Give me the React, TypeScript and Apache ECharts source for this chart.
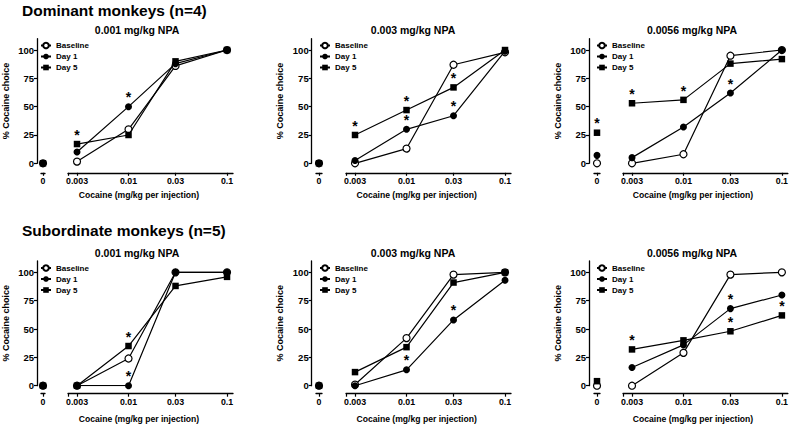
import React, { useEffect, useRef } from "react";
import * as echarts from "echarts";

// ---------- data ----------
const doses = [0.003, 0.01, 0.03, 0.1];
const doseTickValues = [0.00243, 0.003, 0.01, 0.03, 0.1];
const yTicks = [0, 25, 50, 75, 100];
const seriesNames = ["Baseline", "Day 1", "Day 5"];
const groupTitles = ["Dominant monkeys (n=4)", "Subordinate monkeys (n=5)"];
const panelTitles = ["0.001 mg/kg NPA", "0.003 mg/kg NPA", "0.0056 mg/kg NPA"];
const xName = "Cocaine (mg/kg per injection)";
const yName = "% Cocaine choice";

// values: [dose 0 (saline), 0.003, 0.01, 0.03, 0.1]
const dom001Baseline = [0, 1.5, 30, 86, 100];
const dom001Day1 = [0, 10, 50, 88, 100];
const dom001Day5 = [0, 17, 25, 90, 100];
const dom001Sig = [[], [2], [1]];

const dom003Baseline = [0, 0, 13, 87, 98];
const dom003Day1 = [0, 2.5, 30, 42, 99];
const dom003Day5 = [0, 25, 47, 67, 100];
const dom003Sig = [[], [2, 3], [1, 2, 3]];

const dom0056Baseline = [0, 0, 8, 95, 100];
const dom0056Day1 = [7, 5, 32, 62, 100];
const dom0056Day5 = [27, 53, 56, 88, 92];
const dom0056Sig = [[], [3], [0, 1, 2]];

const sub001Baseline = [0, 0, 24, 100, 100];
const sub001Day1 = [0, 0, 0, 100, 100];
const sub001Day5 = [0, 0, 35, 88, 96];
const sub001Sig = [[], [2], [2]];

const sub003Baseline = [0, 1, 42, 98, 100];
const sub003Day1 = [0, 0, 14, 58, 93];
const sub003Day5 = [0, 12, 34, 91, 100];
const sub003Sig = [[], [2, 3], []];

const sub0056Baseline = [0, 0, 29, 98, 100];
const sub0056Day1 = [null, 16, 36, 68, 80];
const sub0056Day5 = [4, 32, 40, 48, 62];
const sub0056Sig = [[], [3], [1, 3, 4]];

const panels = [
  { row: 0, col: 0, values: [dom001Baseline, dom001Day1, dom001Day5], sig: dom001Sig },
  { row: 0, col: 1, values: [dom003Baseline, dom003Day1, dom003Day5], sig: dom003Sig },
  { row: 0, col: 2, values: [dom0056Baseline, dom0056Day1, dom0056Day5], sig: dom0056Sig },
  { row: 1, col: 0, values: [sub001Baseline, sub001Day1, sub001Day5], sig: sub001Sig },
  { row: 1, col: 1, values: [sub003Baseline, sub003Day1, sub003Day5], sig: sub003Sig },
  { row: 1, col: 2, values: [sub0056Baseline, sub0056Day1, sub0056Day5], sig: sub0056Sig },
];

// ---------- layout ----------
const FONT = "'Liberation Sans', Arial, Helvetica, sans-serif";
const cols = [
  { axis: 35, zero: 42, logLeft: 68, titleX: 137, nameX: 139, legendX: 40 },
  { axis: 311.7, zero: 319, logLeft: 346, titleX: 413, nameX: 416.7, legendX: 319 },
  { axis: 589, zero: 597, logLeft: 623, titleX: 692, nameX: 693, legendX: 596 },
];
const rows = [
  { top: 38.7, height: 124.6, xOff: 9.5, titleY: 30, nameY: 195, groupY: 10, legendY: 41.5 },
  { top: 261, height: 124.7, xOff: 8, titleY: 252.5, nameY: 418.5, groupY: 230.5, legendY: 264 },
];
const LOG_W = 165;
const ZERO_W = 6;

const symbols = ["circle", "circle", "rect"];
const symbolSizes = [7, 7, 6.5];

function buildOption() {
  const grid: any[] = [];
  const xAxis: any[] = [];
  const yAxis: any[] = [];
  const series: any[] = [];
  const legend: any[] = [];
  const graphic: any[] = [];

  groupTitles.forEach((t, r) => {
    graphic.push({
      type: "text",
      x: 22,
      y: rows[r].groupY,
      style: { text: t, fill: "#000", font: `bold 15.5px ${FONT}`, align: "left", verticalAlign: "middle" },
    });
  });

  const zeroSeries: any[] = [];

  panels.forEach((p) => {
    const c = cols[p.col];
    const r = rows[p.row];
    const gZero = grid.length;
    grid.push({ left: c.zero - ZERO_W / 2, top: r.top, width: ZERO_W, height: r.height });
    const gLog = grid.length;
    grid.push({ left: c.logLeft, top: r.top, width: LOG_W, height: r.height });

    const axisLine = () => ({ show: true, onZero: false, lineStyle: { color: "#000", width: 1.3 } });
    const labelStyle = { color: "#000", fontFamily: FONT, fontWeight: "bold", fontSize: 8.8 };

    xAxis.push({
      gridIndex: gZero,
      type: "value",
      min: -1,
      max: 1,
      offset: r.xOff,
      axisLine: axisLine(),
      axisTick: { show: true, customValues: [0], length: 3, lineStyle: { color: "#000", width: 1.2 } },
      axisLabel: { ...labelStyle, customValues: [0], margin: 4, formatter: () => "0" },
      splitLine: { show: false },
    });
    xAxis.push({
      gridIndex: gLog,
      type: "log",
      min: 0.00243,
      max: 0.115,
      offset: r.xOff,
      axisLine: axisLine(),
      axisTick: { show: true, customValues: doseTickValues, length: 3, lineStyle: { color: "#000", width: 1.2 } },
      axisLabel: {
        ...labelStyle,
        customValues: doses,
        margin: 4,
        formatter: (v: number) => String(parseFloat(Number(v).toPrecision(6))),
      },
      splitLine: { show: false },
      minorTick: { show: false },
    });
    yAxis.push({
      gridIndex: gZero,
      type: "value",
      min: 0,
      max: 110,
      offset: c.zero - ZERO_W / 2 - c.axis,
      axisLine: axisLine(),
      axisTick: { show: true, customValues: yTicks, length: 3, lineStyle: { color: "#000", width: 1.2 } },
      axisLabel: { ...labelStyle, fontSize: 9.5, customValues: yTicks, margin: 3 },
      splitLine: { show: false },
      name: yName,
      nameLocation: "middle",
      nameGap: 27,
      nameTextStyle: { color: "#000", fontFamily: FONT, fontWeight: "bold", fontSize: 9 },
    });
    yAxis.push({
      gridIndex: gLog,
      type: "value",
      min: 0,
      max: 110,
      show: false,
    });

    const xAxisZero = xAxis.length - 2;
    const xAxisLog = xAxis.length - 1;
    const yAxisZero = yAxis.length - 2;
    const yAxisLog = yAxis.length - 1;

    const labelStar = {
      show: true,
      formatter: "*",
      position: "top",
      distance: -1,
      color: "#000",
      fontFamily: FONT,
      fontWeight: "bold",
      fontSize: 14,
    };

    seriesNames.forEach((name, si) => {
      const vals = p.values[si];
      const sig = p.sig[si];
      const base = {
        name,
        type: "line",
        symbol: symbols[si],
        symbolSize: symbolSizes[si],
        showAllSymbol: true,
        lineStyle: { color: "#000", width: 1.2 },
        itemStyle: si === 0
          ? { color: "#fff", borderColor: "#000", borderWidth: 1.2 }
          : { color: "#000", borderColor: "#000", borderWidth: 0 },
        emphasis: { disabled: true },
        z: 3 + si,
      };
      series.push({
        ...base,
        xAxisIndex: xAxisLog,
        yAxisIndex: yAxisLog,
        data: doses.map((d, di) => {
          const item: any = { value: [d, vals[di + 1]] };
          if (sig.includes(di + 1)) item.label = labelStar;
          return item;
        }),
      });
      if (vals[0] !== null && vals[0] !== undefined) {
        const item: any = { value: [0, vals[0]] };
        if (sig.includes(0)) item.label = labelStar;
        zeroSeries.push({
          ...base,
          xAxisIndex: xAxisZero,
          yAxisIndex: yAxisZero,
          data: [item],
        });
      }
    });

    legend.push({
      left: c.legendX,
      top: r.legendY,
      orient: "vertical",
      itemWidth: 10,
      itemHeight: 7,
      itemGap: 3,
      padding: 0,
      selectedMode: false,
      data: seriesNames,
      textStyle: { color: "#000", fontFamily: FONT, fontWeight: "bold", fontSize: 8 },
    });

    graphic.push({
      type: "text",
      x: c.titleX,
      y: r.titleY,
      style: { text: panelTitles[p.col], fill: "#000", font: `bold 10.5px ${FONT}`, align: "center", verticalAlign: "middle" },
    });
    graphic.push({
      type: "text",
      x: c.nameX,
      y: r.nameY,
      style: { text: xName, fill: "#000", font: `bold 8.6px ${FONT}`, align: "center", verticalAlign: "middle" },
    });
  });

  return {
    animation: false,
    backgroundColor: "#fff",
    grid,
    xAxis,
    yAxis,
    series: [...series, ...zeroSeries],
    legend,
    graphic,
  };
}

export default function App() {
  const ref = useRef<HTMLDivElement>(null);
  useEffect(() => {
    document.body.style.margin = "0";
    const chart = echarts.init(ref.current!, undefined, { renderer: "svg" });
    chart.setOption(buildOption() as any);
    return () => chart.dispose();
  }, []);
  return <div ref={ref} style={{ width: 791, height: 424, position: "absolute", left: 0, top: 0 }} />;
}
